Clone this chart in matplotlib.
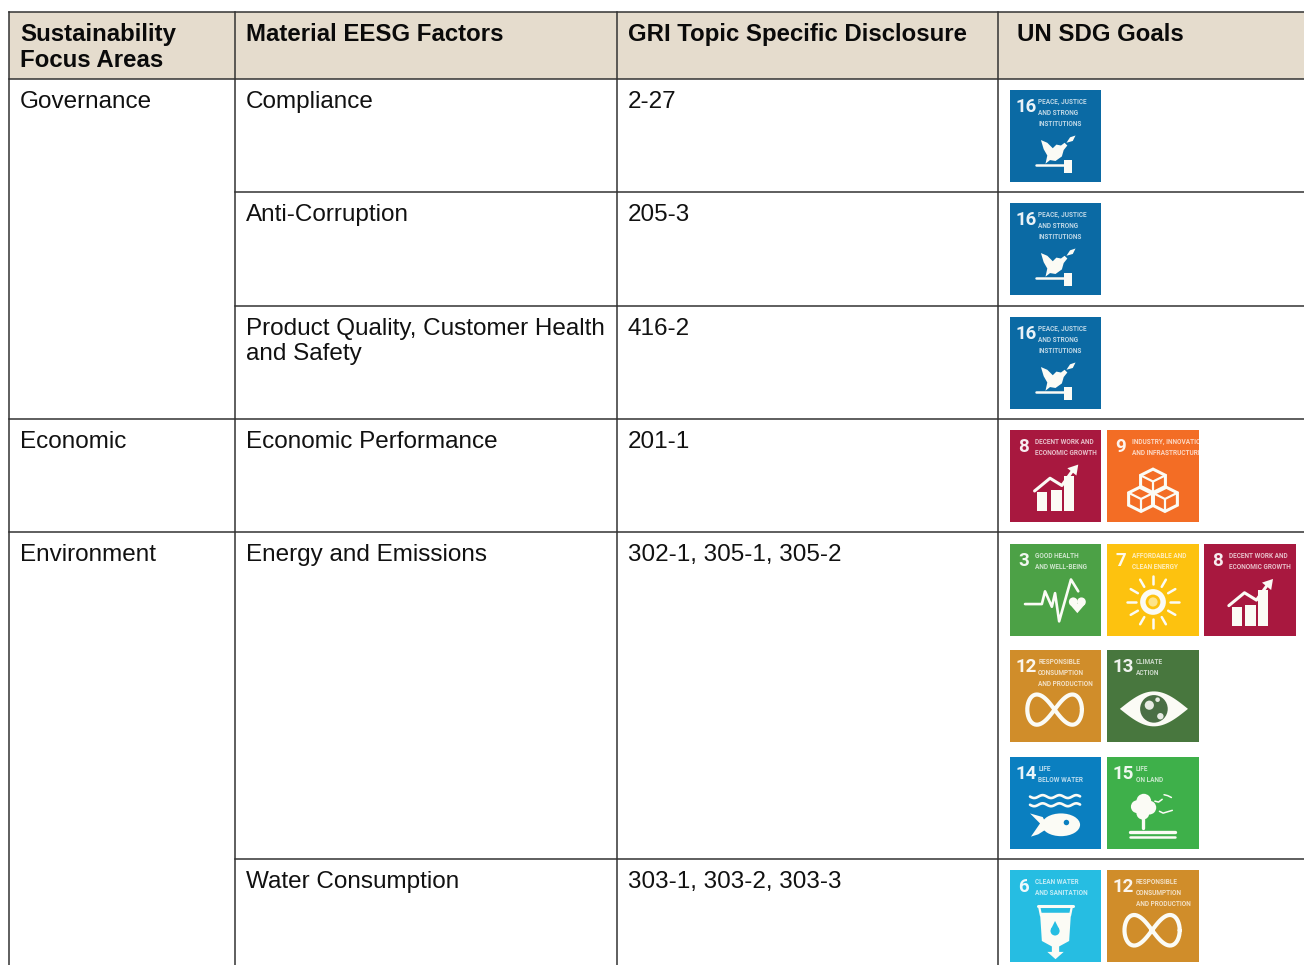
import numpy as np
import matplotlib
matplotlib.use('Agg')
import matplotlib.pyplot as plt
from matplotlib.patches import Rectangle, Circle, Polygon, Ellipse

# table content
headers = ['Sustainability\nFocus Areas', 'Material EESG Factors', 'GRI Topic Specific Disclosure', 'UN SDG Goals']
focus_areas = ['Governance', '', '', 'Economic', 'Environment', '']
factors = ['Compliance', 'Anti-Corruption', 'Product Quality, Customer Health\nand Safety',
           'Economic Performance', 'Energy and Emissions', 'Water Consumption']
disclosures = ['2-27', '205-3', '416-2', '201-1', '302-1, 305-1, 305-2', '303-1, 303-2, 303-3']
# each row is a list of icon rows
row_goals = [[[16]], [[16]], [[16]], [[8, 9]], [[3, 7, 8], [12, 13], [14, 15]], [[6, 12]]]

goal_colors = {3: '#4ca146', 6: '#26bde2', 7: '#fdc20f', 8: '#a8183f', 9: '#f36d25',
               12: '#d08d2a', 13: '#48773e', 14: '#0a7fc0', 15: '#3eb04a', 16: '#0b6aa4'}
goal_labels = {3: ['GOOD HEALTH', 'AND WELL-BEING'],
               6: ['CLEAN WATER', 'AND SANITATION'],
               7: ['AFFORDABLE AND', 'CLEAN ENERGY'],
               8: ['DECENT WORK AND', 'ECONOMIC GROWTH'],
               9: ['INDUSTRY, INNOVATION', 'AND INFRASTRUCTURE'],
               12: ['RESPONSIBLE', 'CONSUMPTION', 'AND PRODUCTION'],
               13: ['CLIMATE', 'ACTION'],
               14: ['LIFE', 'BELOW WATER'],
               15: ['LIFE', 'ON LAND'],
               16: ['PEACE, JUSTICE', 'AND STRONG', 'INSTITUTIONS']}

# layout in pixels
col_x = [9, 235, 617, 998]
row_y = [79, 192, 306, 419, 532, 859]
icon_rows_y = [[90], [203], [317], [430], [544, 650, 757], [870]]
icon_x = [1010, 1107, 1204]
icon_w = [91, 92, 92]
icon_h = 92

W, H = 1304, 965
LINE = '#333333'
FONT = ['Liberation Sans', 'DejaVu Sans']
SMALL = ['Roboto', 'Liberation Sans', 'DejaVu Sans']

fig = plt.figure(figsize=(W / 100, H / 100), dpi=100)
ax = fig.add_axes([0, 0, 1, 1])
ax.set_xlim(0, W)
ax.set_ylim(H, 0)
ax.axis('off')


def draw_glyph(goal, p, s):
    wht = '#fbfbf5'
    bg = goal_colors[goal]

    def poly(pts, **kw):
        kw.setdefault('fc', wht)
        kw.setdefault('ec', 'none')
        ax.add_patch(Polygon([p(*q) for q in pts], closed=True, zorder=4, **kw))

    def line(pts, w=2.0, color=wht):
        xy = np.array([p(*q) for q in pts])
        ax.plot(xy[:, 0], xy[:, 1], color=color, lw=w, zorder=4, solid_capstyle='round')

    def circ(cx, cy, r, color=wht):
        ax.add_patch(Circle(p(cx, cy), r * s, fc=color, ec='none', zorder=5))

    if goal == 16:
        # dove with a branch, over the gavel
        poly([(.34, .55), (.41, .58), (.47, .64), (.51, .60), (.56, .61), (.60, .58), (.63, .61), (.59, .66),
              (.57, .73), (.50, .78), (.44, .77), (.39, .81), (.41, .72), (.37, .65)])
        poly([(.62, .58), (.66, .52), (.72, .50), (.69, .56)])
        line([(.29, .825), (.60, .825)], 1.8)
        poly([(.59, .77), (.68, .77), (.68, .91), (.59, .91)])
    elif goal == 8:
        for bx, bt, bw in [(.30, .68, .11), (.45, .66, .12), (.59, .50, .11)]:
            poly([(bx, bt), (bx + bw, bt), (bx + bw, .89), (bx, .89)])
        line([(.27, .67), (.44, .53), (.57, .61), (.70, .43)], 2.2)
        poly([(.75, .38), (.73, .50), (.63, .42)])
    elif goal == 9:
        for cx, cy in [(.50, .56), (.37, .75), (.63, .75)]:
            d = .135
            poly([(cx, cy - d), (cx + d, cy - d / 2), (cx + d, cy + d / 2), (cx, cy + d), (cx - d, cy + d / 2),
                  (cx - d, cy - d / 2)], fc='none', ec=wht, lw=2.2)
            line([(cx - d, cy - d / 2), (cx, cy), (cx + d, cy - d / 2)], 1.6)
            line([(cx, cy), (cx, cy + d)], 1.6)
    elif goal == 3:
        line([(.165, .66), (.35, .66), (.385, .52), (.46, .69), (.495, .54), (.54, .85), (.67, .39), (.75, .52)], 1.9)
        circ(.695, .635, .048)
        circ(.785, .635, .048)
        poly([(.65, .655), (.83, .655), (.74, .76)])
    elif goal == 7:
        for a in np.deg2rad(np.arange(0, 360, 30)):
            line([(.50 + .19 * np.cos(a), .63 + .19 * np.sin(a)), (.50 + .28 * np.cos(a), .63 + .28 * np.sin(a))], 1.8)
        circ(.50, .63, .14)
        circ(.50, .63, .08, bg)
        ax.add_patch(Circle(p(.50, .63), .05 * s, fc='#fde48a', ec='none', zorder=6))
    elif goal == 12:
        t = np.linspace(0, 2 * np.pi, 90)
        xs = .49 + .30 * np.cos(t) / (1 + .45 * np.sin(t) ** 2)
        ys = .655 + .40 * np.sin(t) * np.cos(t) / (1 + .45 * np.sin(t) ** 2)
        line(list(zip(xs, ys)), 3.0)
    elif goal == 13:
        t = np.linspace(0, 1, 30)
        top = [(.14 + .74 * u, .64 - .19 * np.sin(np.pi * u)) for u in t]
        bot = [(.88 - .74 * u, .64 + .19 * np.sin(np.pi * u)) for u in t]
        poly(top + bot)
        circ(.51, .64, .15, '#4a6f45')
        circ(.46, .60, .05, '#e8ece4')
        circ(.58, .72, .035, '#e8ece4')
        circ(.55, .54, .025, '#e8ece4')
    elif goal == 14:
        for wy in [.435, .525]:
            u = np.linspace(.22, .77, 40)
            line(list(zip(u, wy + .016 * np.sin((u - .22) * 34))), 1.9)
        poly([(.22, .62), (.33, .73), (.23, .875), (.31, .85), (.42, .78), (.36, .66)])
        ax.add_patch(Ellipse(p(.56, .745), .42 * s, .25 * s, fc=wht, ec='none', zorder=4))
        circ(.62, .72, .03, bg)
    elif goal == 15:
        circ(.40, .48, .08)
        circ(.33, .54, .07)
        circ(.46, .55, .075)
        circ(.39, .61, .07)
        line([(.395, .64), (.395, .77)], 2.4)
        line([(.25, .81), (.74, .81)], 2.4)
        line([(.25, .87), (.74, .87)], 1.8)
        line([(.52, .48), (.56, .49), (.60, .46)], 1.1)
        line([(.62, .41), (.66, .42), (.70, .44)], 1.1)
        line([(.57, .59), (.61, .61), (.71, .58)], 1.1)
    elif goal == 6:
        line([(.31, .40), (.69, .40)], 2.2)
        line([(.32, .40), (.34, .50)], 1.6)
        line([(.68, .40), (.66, .50)], 1.6)
        poly([(.33, .47), (.67, .47), (.65, .78), (.54, .84), (.54, .90), (.59, .90), (.50, .98), (.41, .90), (.46, .90),
              (.46, .84), (.35, .78)])
        circ(.495, .67, .05, bg)
        poly([(.495, .56), (.45, .65), (.54, .65)], fc=bg)


def draw_tile(goal, x, y, w):
    ax.add_patch(Rectangle((x, y), w, icon_h, fc=goal_colors[goal], ec='none', zorder=3))

    def p(u, v):
        return x + u * w, y + v * w

    num_x = .055 if goal >= 10 else .09
    ax.text(*p(num_x, .19), str(goal), color='white', fontsize=13.5, family=SMALL, fontweight='bold',
            ha='left', va='center', alpha=.92, zorder=5)
    text_x = .31 if goal >= 10 else .275
    for i, lab in enumerate(goal_labels[goal]):
        ax.text(*p(text_x, .13 + i * .12), lab, color='white', fontsize=4.7, family=SMALL, fontweight='bold',
                ha='left', va='center', alpha=.72, zorder=5, clip_on=True)
    draw_glyph(goal, p, w)


# header band
ax.add_patch(Rectangle((col_x[0], 12), W - col_x[0], 67, fc='#e5dccd', ec='none', zorder=1))
header_x = [20, 246, 628, 1017]
for h, tx in zip(headers, header_x):
    ax.text(tx, 23, h, fontsize=17.25, fontweight='bold', family=FONT, va='top', ha='left', linespacing=1.18,
            color='#0a0a0a')

# grid lines
ax.plot([col_x[0], W], [12, 12], color=LINE, lw=1.1, zorder=2)
ax.plot([col_x[0], W], [row_y[0], row_y[0]], color=LINE, lw=1.1, zorder=2)
for x in col_x:
    ax.plot([x, x], [12, H], color=LINE, lw=1.1, zorder=2)
for k, y in enumerate(row_y[1:], start=1):
    # focus area cell spans over the rows that have no label of their own
    x0 = col_x[0] if focus_areas[k] else col_x[1]
    ax.plot([x0, W], [y, y], color=LINE, lw=1.1, zorder=2)

# rows
for k, top in enumerate(row_y):
    ax.text(20, top + 12, focus_areas[k], fontsize=17.5, family=FONT, va='top', ha='left', color='#111111')
    ax.text(246, top + 12, factors[k], fontsize=17.5, family=FONT, va='top', ha='left', linespacing=1.15,
            color='#111111')
    ax.text(628, top + 12, disclosures[k], fontsize=17.5, family=FONT, va='top', ha='left', color='#111111')
    for goals, iy in zip(row_goals[k], icon_rows_y[k]):
        for g, ix, iw in zip(goals, icon_x, icon_w):
            draw_tile(g, ix, iy, iw)

fig.savefig('out.png', dpi=100, facecolor='white')
